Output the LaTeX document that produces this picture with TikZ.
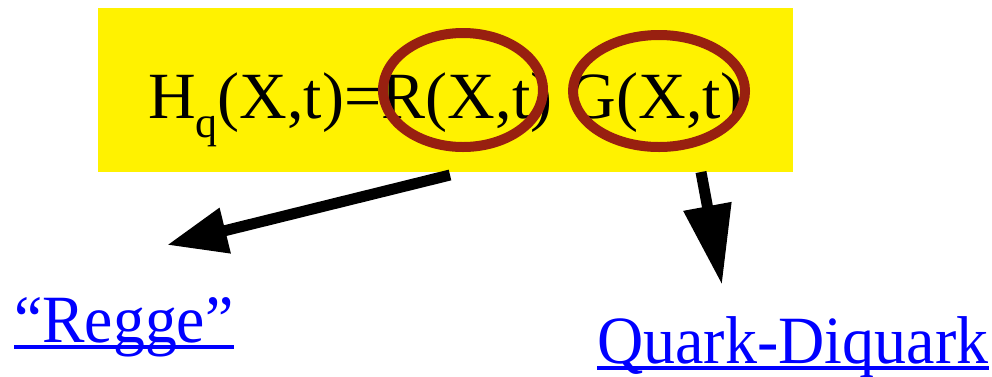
\documentclass[tikz,border=0pt]{standalone}
\usepackage{fontspec}
\setmainfont{Liberation Serif}
\usetikzlibrary{arrows.meta,positioning}

\definecolor{ringred}{HTML}{982010}
\definecolor{linkblue}{HTML}{0000FF}

\begin{document}
\begin{tikzpicture}[
    x=1pt, y=-1pt,
    formula/.style={inner sep=0pt, font=\fontsize{66}{70}\selectfont},
    linktext/.style={inner sep=0pt, text=linkblue, font=\fontsize{65}{70}\selectfont},
    ring/.style={draw=ringred, line width=10pt},
    bigarrow/.style={line width=11pt}
]
\useasboundingbox (0,0) rectangle (992,376);

\fill[yellow] (98,8) rectangle (793,172);

\node[formula, anchor=base west] (lhs) at (148,118) {H\raisebox{-0.3em}{\fontsize{44}{44}\selectfont q}(X,t)=};
\node[formula, base right=0pt of lhs] (R) {R(X,t)};
\node[formula, base right=16pt of R] (G) {G(X,t)};

\draw[ring] (463,90) ellipse [x radius=80, y radius=57];
\draw[ring] (659,91) ellipse [x radius=86, y radius=56];

\node[linktext, anchor=base west] (regge) at (14,342) {\scalebox{0.98}[1.04]{“Regge”}};
\node[linktext, anchor=base west] (qdq) at (597,363) {\scalebox{0.985}[1.04]{Quark-Diquark}};
\draw[linkblue, line width=4pt] ([yshift=-5pt]regge.base west) -- ([yshift=-5pt]regge.base east);
\draw[linkblue, line width=4pt] ([yshift=-5pt]qdq.base west) -- ([yshift=-5pt]qdq.base east);

\coordinate (rtail) at (450,175);
\coordinate (rtip) at (167,245);
\coordinate (gtail) at (701,172);
\coordinate (gtip) at (722,285);

\draw[bigarrow, -{Triangle[length=60pt, width=44pt]}] (rtail) -- (rtip);
\draw[bigarrow, -{Triangle[length=80pt, width=46pt]}] (gtail) -- (gtip);
\end{tikzpicture}
\end{document}
